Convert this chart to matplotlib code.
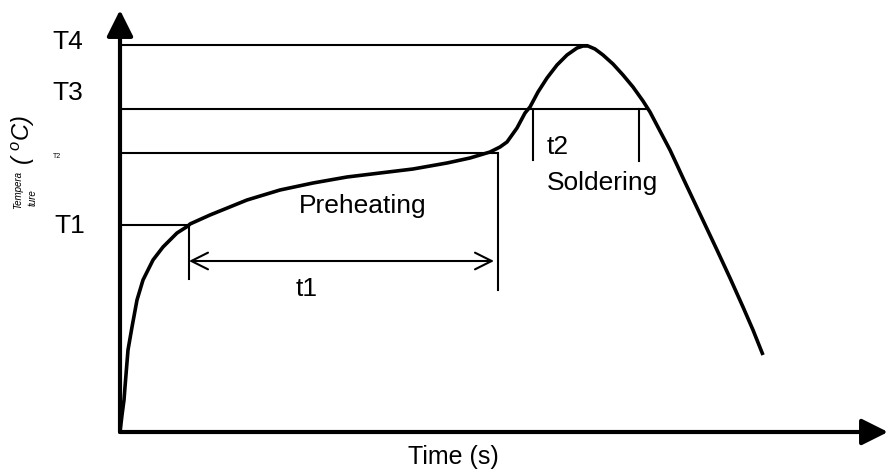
import matplotlib.pyplot as plt
from matplotlib.patches import FancyArrowPatch

plt.rcParams['font.family'] = ['Liberation Sans', 'DejaVu Sans']
plt.rcParams['mathtext.fontset'] = 'custom'
plt.rcParams['mathtext.rm'] = 'Liberation Sans'
plt.rcParams['mathtext.it'] = 'Liberation Sans:italic'

# reflow profile, schematic units (time right, temperature up)
time = [0, 2, 4, 5, 8, 12, 17, 23, 33, 43, 57, 68, 70, 90, 127, 160, 193, 227, 260,
        293, 327, 350, 370, 380, 387, 397, 405, 410, 418, 427, 437, 447, 457, 463,
        468, 475, 483, 493, 503, 513, 523, 530, 540, 550, 557, 563, 580, 597, 610,
        623, 633, 643]
temp = [0, 17, 32, 45, 82, 105, 132, 152, 172, 185, 199, 206, 208, 217, 232, 242, 249,
        255, 259, 263, 269, 274, 280, 285, 290, 304, 319, 325, 340, 354, 367, 377, 384,
        386, 386, 383, 377, 368, 357, 345, 331, 320, 301, 282, 267, 254, 218, 182, 154,
        125, 102, 77]

levels = [207, 279, 323, 387]          # T1..T4
level_ends = [68, 378, 527, 468]       # where each level line meets the curve
t1_span = [69, 378]
t2_span = [413, 519]

fig = plt.figure(figsize=(8.88, 4.76), dpi=100)
ax = fig.add_axes([0, 0, 1, 1])
ax.set_xlim(-120, 768)
ax.set_ylim(-44, 432)
ax.axis('off')

# axes with arrow heads
ax.annotate('', xy=(0, 422), xytext=(0, 0),
            arrowprops=dict(arrowstyle='-|>,head_length=16,head_width=8', mutation_scale=1,
                            lw=3, color='black', shrinkA=0, shrinkB=0))
ax.annotate('', xy=(768, 0), xytext=(0, 0),
            arrowprops=dict(arrowstyle='-|>,head_length=16,head_width=8', mutation_scale=1,
                            lw=3, color='black', shrinkA=0, shrinkB=0))

# level lines
for lv, end in zip(levels, level_ends):
    ax.plot([0, end], [lv, lv], color='black', lw=1.5, solid_capstyle='butt')

# interval markers
ax.plot([t1_span[0]] * 2, [levels[0], 153], color='black', lw=1.5)
ax.plot([t1_span[1]] * 2, [levels[1], 142], color='black', lw=1.5)
ax.plot([t2_span[0]] * 2, [levels[2], 272], color='black', lw=1.5)
ax.plot([t2_span[1]] * 2, [levels[2], 271], color='black', lw=1.5)

t1_arrow = FancyArrowPatch((t1_span[0], 171), (t1_span[1] - 4, 171),
                           arrowstyle='<->,head_length=12,head_width=6', mutation_scale=1,
                           lw=1.5, color='black', shrinkA=0, shrinkB=0)
ax.add_patch(t1_arrow)

# the curve
ax.plot(time, temp, color='black', lw=2.6, solid_joinstyle='round', solid_capstyle='butt')

# labels
for name, lv, dx in zip(['T1', 'T3', 'T4'], [levels[0], levels[2], levels[3]], [-50, -52, -52]):
    ax.text(dx, lv + (-1 if name == 'T1' else 16 if name == 'T3' else 3), name,
            fontsize=19, ha='center', va='center')
ax.text(-63, 275, 'T2', fontsize=5, ha='center', va='center')

ax.text(243, 226, 'Preheating', fontsize=19, ha='center', va='center')
ax.text(187, 143, 't1', fontsize=19, ha='center', va='center')
ax.text(427, 285, 't2', fontsize=19, ha='left', va='center')
ax.text(427, 249, 'Soldering', fontsize=19, ha='left', va='center')
ax.text(333, -25, 'Time (s)', fontsize=18, ha='center', va='center')

ax.text(-102, 242, 'Tempera', fontsize=7, style='italic', rotation=90, ha='center', va='center')
ax.text(-87, 234, 'ture', fontsize=7, style='italic', rotation=90, ha='center', va='center')
ax.text(-97, 292, r'( $^{o}\mathit{C}$)', fontsize=17, style='italic', rotation=90,
        ha='center', va='center')

fig.savefig('out.png', dpi=100)
